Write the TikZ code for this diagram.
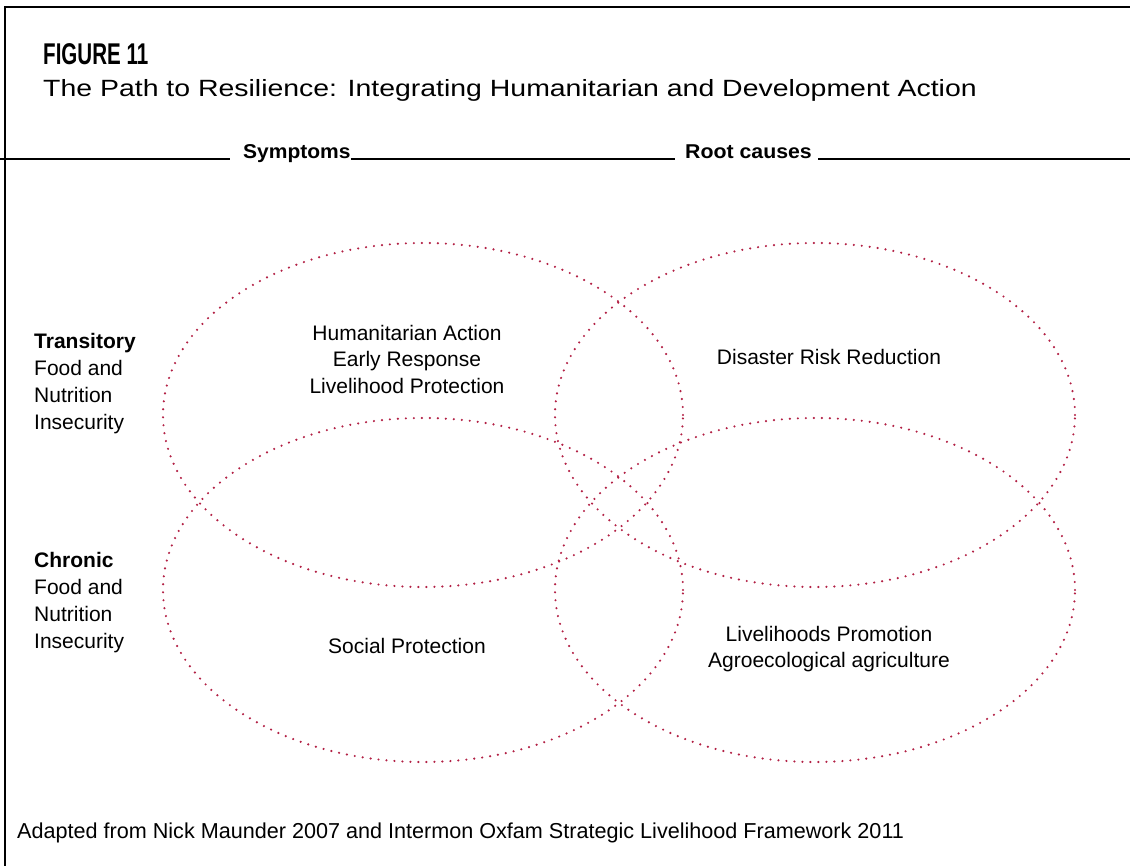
\documentclass[tikz,border=0pt]{standalone}
\usepackage{fontspec}
\setmainfont{Liberation Sans}

\definecolor{dotred}{RGB}{178,32,68}

\tikzset{
  zone/.style={draw=dotred, line width=2.4pt, line cap=round, dash pattern=on 0pt off 8pt},
  headtext/.style={anchor=base west, font=\bfseries\fontsize{20}{22}\selectfont},
  sidetext/.style={anchor=north west, align=left, font=\fontsize{21}{27}\selectfont},
  zonetext/.style={align=center, font=\fontsize{21}{26.5}\selectfont},
}

\begin{document}
\begin{tikzpicture}[x=1pt, y=-1pt, inner sep=0pt]
\useasboundingbox (0,0) rectangle (1130,866);

% Frame
\draw[line width=2pt] (5,866) -- (5,7) -- (1130,7);

% Heading
\node[anchor=base west] (fignum) at (43,65)
  {\scalebox{0.685}[1]{\fontsize{30}{30}\selectfont\bfseries FIGURE 11}};
\node[anchor=base west, font=\fontsize{23.5}{26}\selectfont] (title) at (43,97)
  {\scalebox{1.21}[1]{The Path to Resilience: Integrating Humanitarian and Development Action}};

% Column heads
\node[headtext] (symptoms) at (243,159) {\scalebox{1.05}[1]{Symptoms}};
\node[headtext] (roots) at (685,159) {\scalebox{1.065}[1]{Root causes}};
\coordinate (lstart) at (0,159);
\coordinate (lend) at (1130,159);
\draw[line width=1.4pt] (lstart) -- ([xshift=-13pt]symptoms.base west);
\draw[line width=1.4pt] (symptoms.base east) -- ([xshift=-10pt]roots.base west);
\draw[line width=1.4pt] ([xshift=6pt]roots.base east) -- (lend);

% Row labels
\node[sidetext] (transitory) at (34,333)
  {\textbf{Transitory}\\Food and\\Nutrition\\Insecurity};
\node[sidetext] (chronic) at (34,552)
  {\textbf{Chronic}\\Food and\\Nutrition\\Insecurity};

% Overlapping zones
\coordinate (hum) at (423,415);
\coordinate (drr) at (815,415);
\coordinate (soc) at (423,590);
\coordinate (liv) at (815,590);
\foreach \c in {hum,drr,soc,liv}
  \draw[zone] (\c) ellipse [x radius=260pt, y radius=172pt];

\node[zonetext] (humtext) at (407,359)
  {Humanitarian Action\\Early Response\\Livelihood Protection};
\node[zonetext] (drrtext) at (829,357) {Disaster Risk Reduction};
\node[zonetext] (soctext) at (407,646) {Social Protection};
\node[zonetext] (livtext) at (829,649)
  {Livelihoods Promotion\\Agroecological agriculture};

% Source
\node[anchor=base west, font=\fontsize{21.6}{24}\selectfont] (source) at (17,838)
  {Adapted from Nick Maunder 2007 and Intermon Oxfam Strategic Livelihood Framework 2011};

\end{tikzpicture}
\end{document}
